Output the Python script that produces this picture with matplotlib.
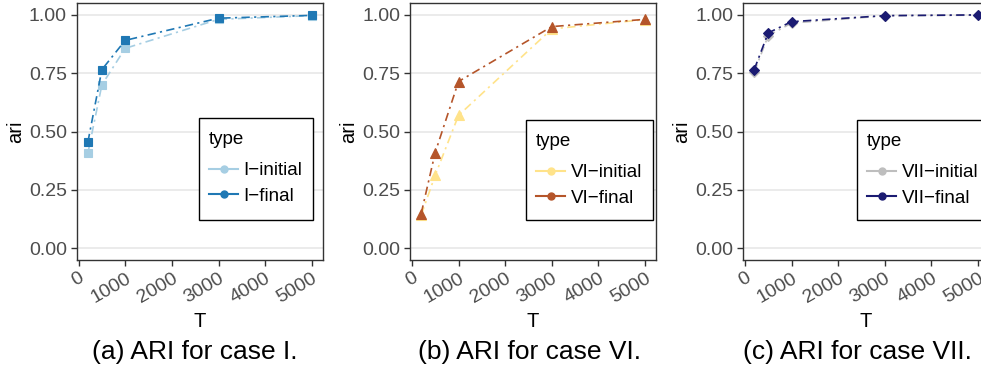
import matplotlib
matplotlib.use("Agg")
import matplotlib.pyplot as plt
from matplotlib.lines import Line2D
from matplotlib.patches import Rectangle

plt.rcParams['font.family'] = ['Liberation Sans', 'DejaVu Sans']

T = [200, 500, 1000, 3000, 5000]

I_initial = [0.408, 0.700, 0.856, 0.980, 0.996]
I_final = [0.455, 0.765, 0.890, 0.985, 0.997]

VI_initial = [0.142, 0.313, 0.569, 0.939, 0.979]
VI_final = [0.149, 0.410, 0.714, 0.949, 0.980]

VII_initial = [0.754, 0.910, 0.964, 0.995, 0.998]
VII_final = [0.765, 0.922, 0.970, 0.996, 0.999]

x_ticks = [0, 1000, 2000, 3000, 4000, 5000]
y_ticks = [0.00, 0.25, 0.50, 0.75, 1.00]
y_tick_labels = ["0.00", "0.25", "0.50", "0.75", "1.00"]

W, H = 981, 377

panels = [
    dict(init=I_initial, fin=I_final, names=("I\u2212initial", "I\u2212final"),
         colors=("#A6CEE3", "#1F78B4"), marker="s", ms=5.5,
         caption="(a) ARI for case I.", left=76.7, cap_x=195,
         box=(199, 118, 313, 220)),
    dict(init=VI_initial, fin=VI_final, names=("VI\u2212initial", "VI\u2212final"),
         colors=("#FFE38A", "#B5552A"), marker="^", ms=6.5,
         caption="(b) ARI for case VI.", left=410, cap_x=530,
         box=(526, 120, 653, 220)),
    dict(init=VII_initial, fin=VII_final, names=("VII\u2212initial", "VII\u2212final"),
         colors=("#BEBEBE", "#1B1B72"), marker="D", ms=5,
         caption="(c) ARI for case VII.", left=743, cap_x=857,
         box=(857, 120, 995, 220)),
]

fig = plt.figure(figsize=(W / 100, H / 100), dpi=100)

ax_w = 246.3
top_px, bot_px = 3, 260
dash = (0, (5.0, 2.6, 1.3, 2.6))
dark = "#333333"
tick_col = "#4D4D4D"

for p in panels:
    ax = fig.add_axes([p['left'] / W, 1 - bot_px / H, ax_w / W, (bot_px - top_px) / H])
    for vals, col in [(p['init'], p['colors'][0]), (p['fin'], p['colors'][1])]:
        ax.plot(T, vals, color=col, linestyle=dash, linewidth=1.2,
                marker=p['marker'], markersize=p['ms'], markeredgewidth=0.8,
                markeredgecolor=col, markerfacecolor=col, zorder=3)
    ax.set_xlim(-40, 5240)
    ax.set_ylim(-0.05, 1.05)
    ax.set_xticks(x_ticks)
    ax.set_xticklabels([str(v) for v in x_ticks], rotation=30, ha='right',
                       va='top', rotation_mode='anchor')
    ax.set_yticks(y_ticks)
    ax.set_yticklabels(y_tick_labels)
    ax.tick_params(axis='both', colors=dark, labelcolor=tick_col, labelsize=14,
                   length=4, width=1.0, direction='out', pad=3)
    ax.grid(axis='y', color="#EBEBEB", linewidth=1.4)
    ax.set_axisbelow(True)
    for s in ax.spines.values():
        s.set_color(dark)
        s.set_linewidth(1.0)
    ax.set_xlabel("T", fontsize=14.5, labelpad=4)
    ax.set_ylabel("ari", fontsize=14.5, labelpad=3)

    # legend frame drawn explicitly
    x0, y0, x1, y1 = p['box']
    ax.add_patch(Rectangle((x0 / W, 1 - y1 / H), (x1 - x0) / W, (y1 - y0) / H,
                           transform=fig.transFigure, facecolor='white',
                           edgecolor='black', linewidth=1.0, clip_on=False, zorder=4.5))
    ax.text((x0 + 10) / W, 1 - (y0 + 21) / H, "type", transform=fig.transFigure,
            ha='left', va='center', fontsize=13.5, zorder=6)

    handles = [Line2D([0], [0], color=p['colors'][0], marker='o', markersize=5, linewidth=1.5),
               Line2D([0], [0], color=p['colors'][1], marker='o', markersize=5, linewidth=1.5)]
    leg = ax.legend(handles, p['names'], loc='upper left',
                    bbox_to_anchor=((x0 + 10) / W, 1 - (y0 + 44) / H),
                    bbox_transform=fig.transFigure,
                    fontsize=13.5, frameon=False,
                    handlelength=1.55, borderpad=0.0, labelspacing=0.45,
                    handletextpad=0.3, borderaxespad=0)
    leg.set_zorder(5)

    fig.text(p['cap_x'] / W, 1 - 352 / H, p['caption'], ha='center', va='center',
             fontsize=19)

fig.savefig("out.png", dpi=100)
